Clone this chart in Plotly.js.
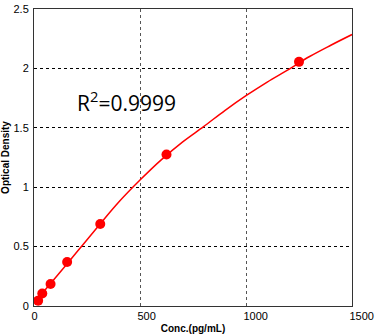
<!DOCTYPE html>
<html>
<head>
<meta charset="utf-8">
<script src="https://cdn.plot.ly/plotly-3.0.1.min.js"></script>
<style>html,body{margin:0;padding:0;background:#fff;}#chart{width:378px;height:334px;}</style>
</head>
<body>
<div id="chart"></div>
<script>
// Standard points
const concentrations = [19.53, 39.06, 78.125, 156.25, 312.5, 625, 1250];
const densities = [0.045, 0.105, 0.185, 0.37, 0.69, 1.275, 2.055];
// Fitted curve
const curveX = [0, 100, 200, 300, 400, 500, 600, 700, 800, 900, 1000, 1100, 1200, 1300, 1400, 1500];
const curveY = [0.025, 0.235, 0.45, 0.665, 0.875, 1.06, 1.23, 1.38, 1.51, 1.645, 1.77, 1.885, 1.99, 2.1, 2.195, 2.285];
const xTicks = [0, 500, 1000, 1500];
const yTicks = [0, 0.5, 1, 1.5, 2, 2.5];
const rSquaredLabel = 'R<sup>2</sup>=0.9999';

const data = [
  {x: curveX, y: curveY, type: 'scatter', mode: 'lines', line: {color: '#ff0000', width: 1.5, shape: 'spline'}, hoverinfo: 'skip'},
  {x: concentrations, y: densities, type: 'scatter', mode: 'markers', marker: {color: '#ff0000', size: 10}}
];
const layout = {
  width: 378, height: 334,
  margin: {l: 34, r: 26, t: 9, b: 28},
  paper_bgcolor: '#fff', plot_bgcolor: '#fff',
  showlegend: false,
  font: {family: 'Liberation Sans, Arial, sans-serif', size: 11, color: '#000'},
  xaxis: {
    range: [0, 1500], tickvals: xTicks, ticktext: xTicks.map(String),
    showgrid: true, gridcolor: '#555', griddash: 'dot', gridwidth: 1,
    zeroline: false, showline: true, linecolor: '#333', linewidth: 1, mirror: true,
    ticks: '', ticklabelposition: 'outside right', ticklabelshift: -3, ticklabelstandoff: 0,
    title: {text: 'Conc.(pg/mL)', font: {family: 'Liberation Sans, Arial, sans-serif', size: 10, weight: 'bold'}, standoff: 5}
  },
  yaxis: {
    range: [0, 2.5], tickvals: yTicks, ticktext: yTicks.map(String),
    showgrid: true, gridcolor: '#000', griddash: '3px,3px', gridwidth: 1,
    zeroline: false, showline: true, linecolor: '#333', linewidth: 1, mirror: true,
    ticks: '', ticklabelstandoff: 2,
    title: {text: 'Optical Density', font: {family: 'Liberation Sans, Arial, sans-serif', size: 10, weight: 'bold'}, standoff: 6}
  },
  annotations: [{
    x: 434, y: 1.72, xref: 'x', yref: 'y', text: rSquaredLabel, showarrow: false,
    font: {family: 'Open Sans, sans-serif', size: 21, color: '#000'}
  }]
};
Plotly.newPlot('chart', data, layout, {staticPlot: true, displayModeBar: false});
</script>
</body>
</html>
